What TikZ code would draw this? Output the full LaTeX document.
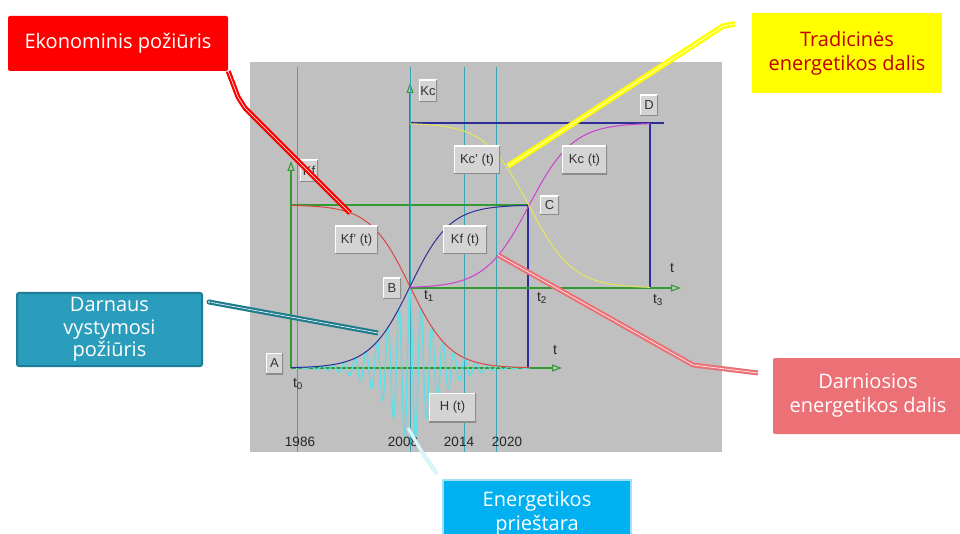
\documentclass[tikz,border=0pt]{standalone}
\usepackage{fontspec}
\setmainfont{Liberation Sans}
\newfontfamily\callfont{Open Sans}
\usetikzlibrary{arrows.meta}
\definecolor{panel}{HTML}{C0C0C0}
\definecolor{yearline}{HTML}{3AA6B6}
\definecolor{axisgreen}{HTML}{339933}
\definecolor{dblue}{HTML}{2E2E99}
\definecolor{cred}{HTML}{D9473F}
\definecolor{cmag}{HTML}{CC3FD0}
\definecolor{cyel}{HTML}{E6E65A}
\definecolor{hcyan}{HTML}{5EE0E6}
\definecolor{boxgray}{HTML}{D4D4D4}
\definecolor{ekored}{HTML}{FF0000}
\definecolor{tradyel}{HTML}{FFFF00}
\definecolor{tradtext}{HTML}{C00000}
\definecolor{darnteal}{HTML}{2A9DBD}
\definecolor{darnedge}{HTML}{1E7C96}
\definecolor{tealline}{HTML}{1F7C8C}
\definecolor{salmon}{HTML}{EC7177}
\definecolor{energblue}{HTML}{00B0F0}
\definecolor{energedge}{HTML}{9EE2F8}
\definecolor{energline}{HTML}{C8F0F8}
\tikzset{
  lbl/.style={fill=boxgray, inner sep=0pt, text=black!80,
    font=\fontsize{13}{15}\selectfont,
    path picture={
      \draw[white,line width=2.4pt] (path picture bounding box.south west) -- (path picture bounding box.north west) -- (path picture bounding box.north east);
      \draw[black!45,line width=2.4pt] (path picture bounding box.south west) -- (path picture bounding box.south east) -- (path picture bounding box.north east);}},
  axisline/.style={axisgreen, line width=1.1pt},
  axisarrow/.style={axisline, -{Triangle[open, length=10pt, width=7pt]}},
  frameline/.style={dblue, line width=1.1pt},
  yrline/.style={yearline, line width=0.9pt},
  yrtext/.style={font=\fontsize{13.5}{15}\selectfont, text=black!85, inner sep=0pt},
  ttext/.style={font=\fontsize{14}{16}\selectfont, text=black!85, inner sep=0pt},
  callout/.style={font=\callfont\fontsize{20}{24}\selectfont, align=center, inner sep=0pt},
  conn/.style={line width=2.2pt, double=white, double distance=0.6pt, line join=round},
}
\begin{document}
\begin{tikzpicture}[x=1pt,y=-1pt]
\useasboundingbox (0,0) rectangle (960,534);
\fill[white] (0,0) rectangle (960,534);
\fill[panel] (250,62) rectangle (722,452);

% year lines
\draw[yrline] (297,67) -- (297,452);
\draw[yrline] (464,67) -- (464,452);
\draw[yrline] (496,67) -- (496,452);

% frame lines
\draw[frameline] (528,205) -- (528,368);
\draw[frameline] (650,123) -- (650,288);
\draw[frameline] (410,123) -- (664,123);

% axes
\draw[axisline] (291,205) -- (528,205);
\draw[axisarrow] (291,368) -- (291,161);
\draw[axisarrow] (291,368) -- (562,368);
\draw[axisarrow] (410,288) -- (681,288);
\draw[axisarrow] (410,288) -- (410,83);
\draw[yrline] (410,67) -- (410,452);

% H(t)
\draw[hcyan, line width=1.4pt] plot[domain=296:530, samples=900]
  (\x, {368 - 163/(1+exp(abs(\x-410)/20))*cos(32.7273*(\x-410))});

% curves
\draw[cred, line width=1pt] plot[domain=291:530, samples=120, smooth]
  (\x, {205+163/(1+exp(-(\x-410)/20))});
\draw[dblue, line width=1pt] plot[domain=291:528, samples=120, smooth]
  (\x, {368-163/(1+exp(-(\x-410)/20))});
\draw[cmag, line width=1pt] plot[domain=410:650, samples=120, smooth]
  (\x, {288-165/(1+exp(-(\x-529)/22))});
\draw[cyel, line width=1pt] plot[domain=410:650, samples=120, smooth]
  (\x, {123+165/(1+exp(-(\x-529)/22))});

% label boxes
\node[lbl, minimum width=43pt, minimum height=28pt] (kfpt) at (356.5,240) {Kf' (t)};
\node[lbl, minimum width=44pt, minimum height=28pt] (kft) at (465,240) {Kf (t)};
\node[lbl, minimum width=46pt, minimum height=28pt] (kcpt) at (477,160) {Kc' (t)};
\node[lbl, minimum width=45pt, minimum height=29pt] (kct) at (584.5,160) {Kc (t)};
\node[lbl, minimum width=47pt, minimum height=29pt] (ht) at (452.5,407.5) {H (t)};
\node[lbl, minimum width=17pt, minimum height=21pt] (la) at (274.5,363.5) {A};
\node[lbl, minimum width=18pt, minimum height=21pt] (lb) at (392,288.5) {B};
\node[lbl, minimum width=19pt, minimum height=19pt] (lc) at (549.5,205.5) {C};
\node[lbl, minimum width=18pt, minimum height=21pt] (ld) at (649,105.5) {D};
\node[lbl, minimum width=18pt, minimum height=22pt] (lkf) at (309,171) {Kf};
\node[lbl, minimum width=18pt, minimum height=22pt] (lkc) at (428,91) {Kc};

% t labels
\node[ttext] (t0) at (298,384) {t\textsubscript{0}};
\node[ttext] (t1) at (429,296) {t\textsubscript{1}};
\node[ttext] (t2) at (542,298) {t\textsubscript{2}};
\node[ttext] (t3) at (658,300) {t\textsubscript{3}};
\node[ttext] (tlow) at (555,350) {t};
\node[ttext] (tmid) at (672,268) {t};

% years
\node[yrtext] (y1986) at (300,442) {1986};
\node[yrtext] (y2008) at (403,442) {2008};
\node[yrtext] (y2014) at (459,442) {2014};
\node[yrtext] (y2020) at (507,442) {2020};

% callout boxes
\node[callout, fill=ekored, text=white, rounded corners=2pt, minimum width=220pt, minimum height=55pt] (eko) at (118,43.5) {Ekonominis požiūris};
\node[callout, fill=tradyel, text=tradtext, minimum width=190pt, minimum height=80pt] (trad) at (847,53) {Tradicinės\\energetikos dalis};
\node[callout, fill=darnteal, draw=darnedge, line width=2pt, rounded corners=2pt, text=white, minimum width=185pt, minimum height=73pt] (darn) at (109.5,329.5) {Darnaus\\[-1.5pt]vystymosi\\[-1.5pt]požiūris};
\node[callout, fill=salmon, text=white, rounded corners=2pt, minimum width=190pt, minimum height=76pt] (sal) at (868,396) {Darniosios\\energetikos dalis};
\node[callout, fill=energblue, draw=energedge, line width=1.5pt, text=white, minimum width=188pt, minimum height=66pt] (energ) at (537,513) {Energetikos\\prieštara};

% connector points
\coordinate (ekoA) at (238,97);
\coordinate (ekoB) at (245,108);
\coordinate (ekoEnd) at (350,213);
\coordinate (tradS) at (735,24);
\coordinate (tradA) at (723,26);
\coordinate (tradEnd) at (508,166);
\coordinate (darnS) at (209,302);
\coordinate (darnEnd) at (378,333);
\coordinate (salEnd) at (498,255);
\coordinate (salA) at (693,365);
\coordinate (salS) at (758,373);
\coordinate (enEnd) at (408,428);
\coordinate (enA) at (422,452);
\coordinate (enS) at (437,474);

\draw[conn, ekored] (eko.south east) -- (ekoA) -- (ekoB) -- (ekoEnd);
\draw[conn, tradyel, line width=2.5pt] (tradS) -- (tradA) -- (tradEnd);
\draw[conn, tealline] (darnS) -- (darnEnd);
\fill[tealline] (darnS) circle (2.5pt);
\fill[white] (darnS) circle (1pt);
\draw[conn, salmon] (salEnd) -- (salA) -- (salS);
\draw[conn, energline, line width=1.5pt] (enEnd) -- (enA) -- (enS);
\end{tikzpicture}
\end{document}
